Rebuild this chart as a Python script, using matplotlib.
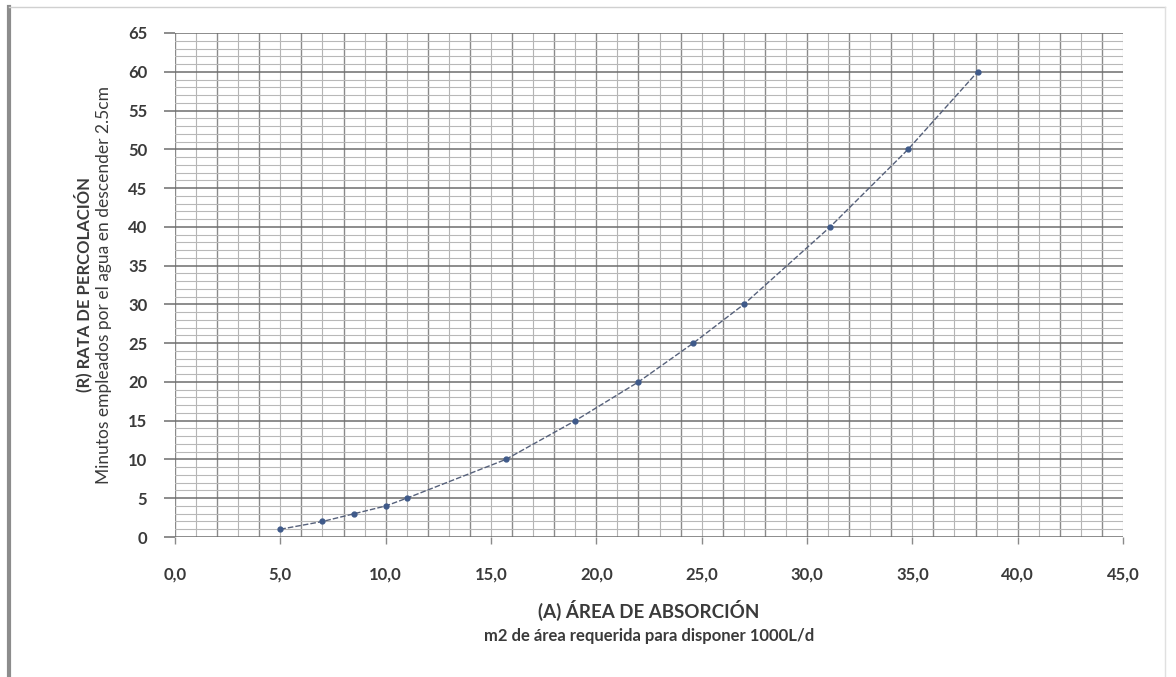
import matplotlib
matplotlib.use("Agg")
import matplotlib.pyplot as plt
from matplotlib.lines import Line2D
from matplotlib.ticker import MultipleLocator, FuncFormatter

plt.rcParams["font.family"] = ["Lato", "DejaVu Sans"]

# Área de absorción (m2) vs rata de percolación (min / 2.5 cm)
area = [5.0, 7.0, 8.5, 10.0, 11.0, 15.7, 19.0, 22.0, 24.6, 27.0, 31.1, 34.8, 38.1]
rata = [1, 2, 3, 4, 5, 10, 15, 20, 25, 30, 40, 50, 60]

X_MAX, Y_MAX = 45, 65
W, H = 1176, 677
TXT = "#3a3a3a"

fig = plt.figure(figsize=(W / 100, H / 100), dpi=100)
fig.patch.set_facecolor("white")
ax = fig.add_axes([175 / W, 1 - 537 / H, (1123 - 175) / W, (537 - 33) / H])
ax.set_xlim(0, X_MAX)
ax.set_ylim(0, Y_MAX)

# cuadrícula tipo papel milimetrado
for xv in range(0, X_MAX + 1):
    dark = xv % 2 == 0
    ax.axvline(xv, color="#8a8a8a" if dark else "#b4b4b4", lw=1.0 if dark else 0.8, zorder=1)
for yv in range(0, Y_MAX + 1):
    major = yv % 5 == 0
    ax.axhline(yv, color="#6e6e6e" if major else "#b8b8b8", lw=1.1 if major else 0.8, zorder=1)

for s in ax.spines.values():
    s.set_visible(False)

ax.xaxis.set_major_locator(MultipleLocator(5))
ax.yaxis.set_major_locator(MultipleLocator(5))
ax.xaxis.set_major_formatter(FuncFormatter(lambda v, p: f"{v:.1f}".replace(".", ",")))
ax.yaxis.set_major_formatter(FuncFormatter(lambda v, p: f"{v:.0f}"))
ax.tick_params(axis="x", length=5, width=1, color="#8a8a8a", pad=16, labelsize=12, labelcolor=TXT)
ax.tick_params(axis="y", length=8, width=1.1, color="#6e6e6e", pad=12, labelsize=12, labelcolor=TXT)
for lbl in ax.get_xticklabels() + ax.get_yticklabels():
    lbl.set_fontweight("bold")

ax.plot(area, rata, color="#55607a", lw=1.0, ls=(0, (4, 1.5)), zorder=3)
ax.plot(area, rata, ls="none", marker="o", ms=3.5, color="#3f5a8a", zorder=4)

# títulos de ejes
cy = 1 - 285 / H
fig.text(83 / W, cy, "(R) RATA DE PERCOLACIÓN", rotation=90, ha="center", va="center",
         fontsize=12, fontweight="bold", color=TXT)
fig.text(104 / W, cy, "Minutos empleados por el agua en descender 2.5cm", rotation=90,
         ha="center", va="center", fontsize=12.5, color=TXT)
cx = 649 / W
fig.text(cx, 1 - 610 / H, "(A) ÁREA DE ABSORCIÓN", ha="center", va="center",
         fontsize=13.5, fontweight="bold", color=TXT)
fig.text(cx, 1 - 636 / H, "m2 de área requerida para disponer 1000L/d", ha="center",
         va="center", fontsize=12, fontweight="bold", color=TXT)

# marco exterior del gráfico escaneado
fig.add_artist(Line2D([9 / W, 9 / W], [0, 1 - 7 / H], transform=fig.transFigure,
                      color="#8c8c8c", lw=3))
fig.add_artist(Line2D([9 / W, 1165 / W], [1 - 7 / H, 1 - 7 / H], transform=fig.transFigure,
                      color="#d0d0d0", lw=1))
fig.add_artist(Line2D([1165 / W, 1165 / W], [0, 1 - 7 / H], transform=fig.transFigure,
                      color="#e0e0e0", lw=1))

fig.savefig("out.png", dpi=100)
